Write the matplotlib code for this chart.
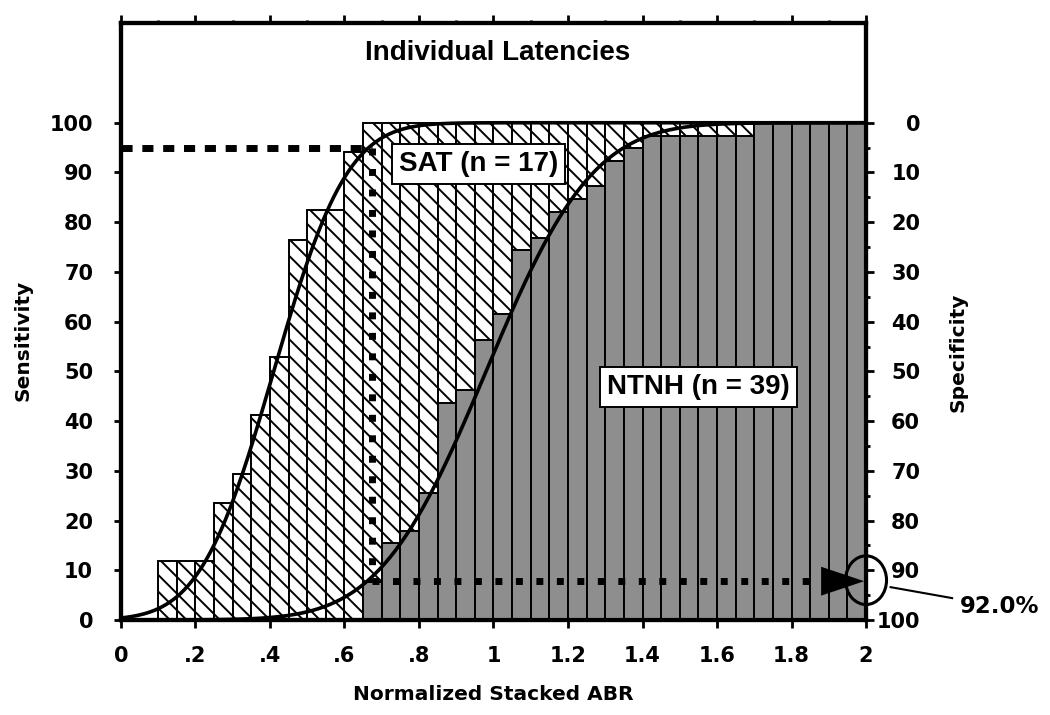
import math
import numpy as np
import matplotlib
matplotlib.use('Agg')
import matplotlib.pyplot as plt
from matplotlib.patches import Ellipse
from matplotlib.ticker import FixedLocator, MultipleLocator

# ---------------- data ----------------
bin_width = 0.05
bin_start = np.round(np.arange(0.0, 2.0, bin_width), 2)   # 40 bins, 0 .. 1.95

# cumulative % of SAT ears (n = 17) per bin
sat_pct = [0, 0, 11.8, 11.8, 11.8, 23.5, 29.4, 41.2, 52.9, 76.5,
           82.4, 82.4, 94.1, 100, 100, 100, 100, 100, 100, 100,
           100, 100, 100, 100, 100, 100, 100, 100, 100, 100,
           100, 100, 100, 100, 100, 100, 100, 100, 100, 100]

# cumulative % of NTNH ears (n = 39) per bin
ntnh_pct = [0, 0, 0, 0, 0, 0, 0, 0, 0, 0,
            0, 0, 0, 7.7, 15.4, 17.9, 25.6, 43.6, 46.2, 56.4,
            61.5, 74.4, 76.9, 82.1, 84.6, 87.2, 92.3, 94.9, 97.4, 97.4,
            97.4, 97.4, 97.4, 97.4, 100, 100, 100, 100, 100, 100]

# fitted cumulative normal curves (mean, sd)
sat_fit = (0.41, 0.155)
ntnh_fit = (0.98, 0.225)

cutoff = 0.675
cutoff_sensitivity = 95.0
cutoff_specificity = 92.2

x_ticks = [0, 0.2, 0.4, 0.6, 0.8, 1.0, 1.2, 1.4, 1.6, 1.8, 2.0]
x_ticklabels = ['0', '.2', '.4', '.6', '.8', '1', '1.2', '1.4', '1.6', '1.8', '2']
y_ticks = [0, 10, 20, 30, 40, 50, 60, 70, 80, 90, 100]
spec_ticks = [0, 10, 20, 30, 40, 50, 60, 70, 80, 90, 100]

# ---------------- style ----------------
plt.rcParams['font.family'] = ['DejaVu Sans']
plt.rcParams['font.weight'] = 'bold'
plt.rcParams['hatch.linewidth'] = 1.4

fig = plt.figure(figsize=(10.5, 7.15), dpi=100)
ax = fig.add_axes([0.1152, 0.1329, 0.7096, 0.8345])
ax.set_xlim(0, 2)
ax.set_ylim(0, 120)

ax.bar(bin_start, sat_pct, width=bin_width, align='edge', facecolor='white',
       edgecolor='black', hatch='\\\\', linewidth=1.4, zorder=2)
ax.bar(bin_start, ntnh_pct, width=bin_width, align='edge', facecolor='#8e8e8e',
       edgecolor='black', linewidth=1.4, zorder=3)

def norm_cdf(x, mu, sd):
    return np.array([50.0 * (1.0 + math.erf((v - mu) / (sd * math.sqrt(2.0)))) for v in x])

xs = np.linspace(0, 2, 400)
ax.plot(xs, norm_cdf(xs, *sat_fit), color='black', lw=2.6, zorder=4)
ax.plot(xs, norm_cdf(xs, *ntnh_fit), color='black', lw=2.6, zorder=4)

spec_level = 100 - cutoff_specificity
ax.plot([0, cutoff], [cutoff_sensitivity, cutoff_sensitivity], color='black', lw=5,
        dashes=(1.6, 1.4), dash_capstyle='butt', zorder=5, clip_on=False)
ax.plot([cutoff, cutoff], [cutoff_sensitivity, spec_level], color='black', lw=5,
        dashes=(1, 1.95), dash_capstyle='butt', zorder=5)
ax.plot([cutoff, 1.87], [spec_level, spec_level], color='black', lw=5,
        dashes=(1, 1.95), dash_capstyle='butt', zorder=5)
ax.annotate('', xy=(1.995, spec_level), xytext=(1.87, spec_level),
            arrowprops=dict(arrowstyle='-|>,head_length=1.55,head_width=0.52',
                            mutation_scale=20, color='black', lw=0,
                            shrinkA=0, shrinkB=0), zorder=6)
ax.add_patch(Ellipse((2.0, 8.0), width=0.11, height=9.8, fill=False,
                     edgecolor='black', lw=2.2, clip_on=False, zorder=7))
ax.plot([2.066, 2.231], [6.6, 4.4], color='black', lw=1.5, clip_on=False, zorder=7)
ax.text(2.252, 2.7, '92.0%', fontsize=16.5, fontweight='bold', ha='left',
        va='center', clip_on=False)

ax.text(1.01, 114.1, 'Individual Latencies', family='Liberation Sans',
        fontweight='bold', fontsize=20, ha='center', va='center')
ax.text(0.96, 91.7, 'SAT (n = 17)', family='Liberation Sans', fontweight='bold',
        fontsize=20, ha='center', va='center', zorder=8,
        bbox=dict(boxstyle='square,pad=0.25', fc='white', ec='black', lw=1.4))
ax.text(1.551, 46.9, 'NTNH (n = 39)', family='Liberation Sans', fontweight='bold',
        fontsize=20, ha='center', va='center', zorder=8,
        bbox=dict(boxstyle='square,pad=0.25', fc='white', ec='black', lw=1.4))

# ---------------- axes ----------------
ax.set_xticks(x_ticks)
ax.set_xticklabels(x_ticklabels)
ax.xaxis.set_minor_locator(MultipleLocator(0.1))
ax.set_yticks(y_ticks)
ax.tick_params(axis='x', which='major', direction='out', length=6, width=2,
               top=True, bottom=True, labelsize=15, pad=13)
ax.tick_params(axis='x', which='minor', direction='out', length=2.5, width=2,
               top=True, bottom=False)
ax.tick_params(axis='y', which='major', direction='out', length=5, width=2,
               right=False, labelsize=15, pad=15)

ax2 = ax.twinx()
ax2.set_ylim(100, -20)
ax2.yaxis.set_major_locator(FixedLocator(spec_ticks))
ax2.yaxis.set_minor_locator(FixedLocator([5, 15, 25, 35, 45, 55, 65, 75, 85, 95]))
ax2.tick_params(axis='y', which='major', direction='out', length=6, width=2,
                labelsize=15, pad=33)
ax2.tick_params(axis='y', which='minor', direction='out', length=3, width=2)
plt.setp(ax2.get_yticklabels(), ha='right')

for a in (ax, ax2):
    for s in a.spines.values():
        s.set_linewidth(3)

ax.set_xlabel('Normalized Stacked ABR', fontsize=14.5, fontweight='bold')
ax.xaxis.set_label_coords(0.5, -0.1257)
ax.xaxis.label.set_va('center')
ax.set_ylabel('Sensitivity', fontsize=14.5, fontweight='bold')
ax.yaxis.set_label_coords(-0.1315, 0.468)
ax.yaxis.label.set_va('center')
ax2.set_ylabel('Specificity', fontsize=14.5, fontweight='bold', rotation=90)
ax2.yaxis.set_label_coords(1.1235, 0.449)
ax2.yaxis.label.set_va('center')

fig.savefig('out.png', dpi=100)
